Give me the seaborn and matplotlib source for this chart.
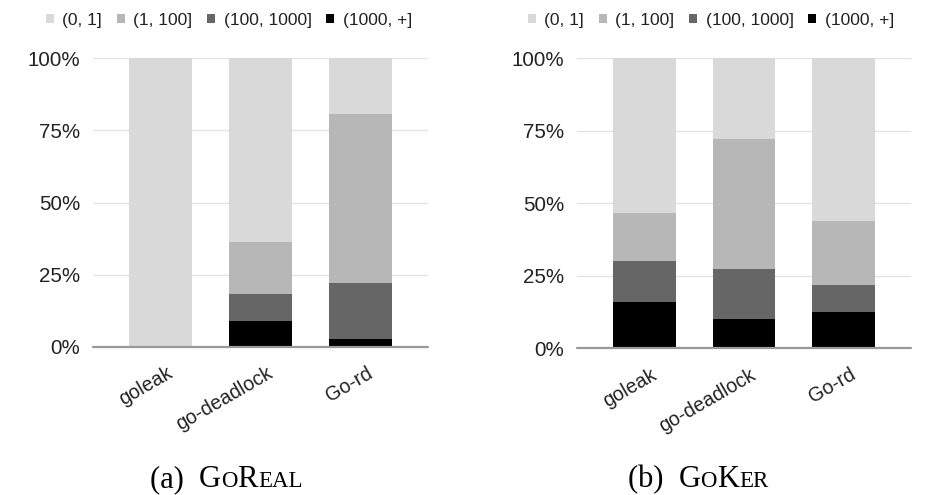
import numpy as np
import matplotlib
matplotlib.use('Agg')
import matplotlib.pyplot as plt
import matplotlib.transforms as mtransforms
from matplotlib.patches import Patch
import seaborn as sns

categories = ['goleak', 'go-deadlock', 'Go-rd']
buckets = ['(0, 1]', '(1, 100]', '(100, 1000]', '(1000, +]']
bucket_colors = ['#d9d9d9', '#b7b7b7', '#666666', '#000000']

# percentages per bucket, bottom bucket last
goreal_0_1 = [100.0, 63.8, 19.3]
goreal_1_100 = [0.0, 18.0, 58.5]
goreal_100_1000 = [0.0, 9.2, 19.5]
goreal_1000_plus = [0.0, 9.0, 2.7]

goker_0_1 = [53.4, 27.7, 56.2]
goker_1_100 = [16.4, 44.9, 22.1]
goker_100_1000 = [14.1, 17.2, 9.3]
goker_1000_plus = [16.1, 10.2, 12.4]

yticks = [0, 25, 50, 75, 100]
ytick_labels = ['0%', '25%', '50%', '75%', '100%']

sns.set_style('white')
plt.rcParams['font.family'] = ['Liberation Sans', 'DejaVu Sans']

fig = plt.figure(figsize=(9.29, 4.95), dpi=100)
ax1 = fig.add_axes([93 / 929, 1 - 346.7 / 495, 335 / 929, 288.4 / 495])
ax2 = fig.add_axes([577 / 929, 1 - 348.3 / 495, 334 / 929, 290 / 495])


def stacked(ax, layers):
    # layers listed bottom -> top; draw tallest cumulative bar first
    cum = np.cumsum(np.array(layers), axis=0)
    colors = bucket_colors[::-1]
    for i in range(len(layers) - 1, -1, -1):
        sns.barplot(x=categories, y=cum[i], color=colors[i], saturation=1,
                    width=0.63, linewidth=0, order=categories, ax=ax, zorder=3)
    ax.set_xlim(-0.675, 2.675)
    ax.set_ylim(0, 100)
    ax.set_yticks(yticks, ytick_labels)
    ax.set_xticks(range(len(categories)), categories)
    for y in yticks[1:]:
        ax.axhline(y, color='#e3e3e3', lw=1, zorder=1)
    ax.axhline(0, color='#999999', lw=1.6, zorder=4, clip_on=False)
    for s in ax.spines.values():
        s.set_visible(False)
    ax.tick_params(axis='y', length=0, pad=9, labelsize=14.8, labelcolor='#222222')
    ax.tick_params(axis='x', length=0, pad=12, labelsize=14.2, labelcolor='#222222')
    offset = mtransforms.ScaledTranslation(15 / 100, 0, fig.dpi_scale_trans)
    for lbl in ax.get_xticklabels():
        lbl.set_rotation(30)
        lbl.set_ha('right')
        lbl.set_transform(lbl.get_transform() + offset)
    ax.set_xlabel('')
    ax.set_ylabel('')


stacked(ax1, [goreal_1000_plus, goreal_100_1000, goreal_1_100, goreal_0_1])
stacked(ax2, [goker_1000_plus, goker_100_1000, goker_1_100, goker_0_1])

handles = [Patch(facecolor=c, edgecolor='none', label=b) for b, c in zip(buckets, bucket_colors)]
for cx in (229, 711):
    fig.legend(handles=handles, loc='center', bbox_to_anchor=(cx / 929, 1 - 20 / 495),
               ncol=4, frameon=False, fontsize=12.5, handlelength=0.45, handleheight=0.45,
               handletextpad=0.5, columnspacing=0.85, labelcolor='#222222')

# captions with small caps
fig.canvas.draw()
renderer = fig.canvas.get_renderer()


def caption(cx, base_y, parts):
    texts = []
    for s, size in parts:
        t = fig.text(0, 1 - base_y / 495, s, fontsize=size, va='baseline', ha='left',
                     family=['Liberation Serif', 'DejaVu Serif'], color='black')
        texts.append(t)
    widths = [t.get_window_extent(renderer).width for t in texts]
    x = cx - sum(widths) / 2
    for t, w in zip(texts, widths):
        t.set_x(x / 929)
        x += w


big, small = 22, 16.5
caption(226, 487, [('(a)  ', big), ('G', big), ('O', small), ('R', big), ('EAL', small)])
caption(698, 487, [('(b)  ', big), ('G', big), ('O', small), ('K', big), ('ER', small)])

fig.savefig('out.png', dpi=100)
